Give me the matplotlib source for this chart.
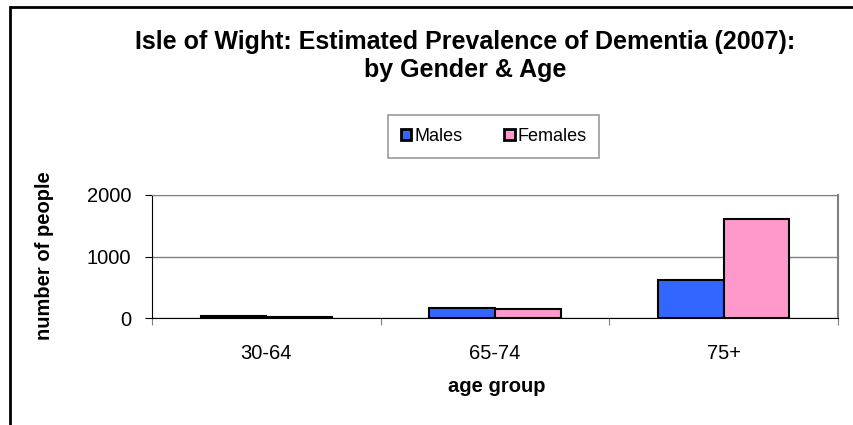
import matplotlib

matplotlib.use("Agg")
import matplotlib.pyplot as plt
import numpy as np
from matplotlib.patches import Rectangle, Patch

plt.rcParams["font.family"] = ["Liberation Sans", "DejaVu Sans"]

age_groups = ["30-64", "65-74", "75+"]
males = [25, 165, 610]
females = [15, 145, 1605]
yticks = [0, 1000, 2000]

fig = plt.figure(figsize=(8.54, 4.25), dpi=100)

# outer chart border (runs off the right and bottom edges)
fig.patches.append(Rectangle((10 / 854, -0.1), 1.2, 1 - 7 / 425 + 0.1,
                             transform=fig.transFigure, fill=False,
                             edgecolor="black", lw=2))

ax = fig.add_axes([152 / 854, 107 / 425, 686 / 854, 123 / 425])
x = np.arange(len(age_groups)) + 0.5
w = 0.287
ax.bar(x - w / 2, males, w, color="#3366ff", edgecolor="black", lw=1.5, zorder=3)
ax.bar(x + w / 2, females, w, color="#ff99cc", edgecolor="black", lw=1.5, zorder=3)

ax.set_xlim(0, 3)
ax.set_ylim(0, 2000)
ax.set_yticks(yticks)
ax.set_yticklabels([str(v) for v in yticks], fontsize=14.5)
ax.set_xticks([0, 1, 2, 3])
ax.set_xticklabels([])
ax.set_xticks(x, minor=True)
ax.set_xticklabels(age_groups, minor=True, fontsize=14.5)
ax.tick_params(axis="x", which="minor", length=0, pad=19)
ax.tick_params(axis="x", which="major", length=5, color="#808080", direction="out")
ax.tick_params(axis="y", length=5, direction="out", pad=10)
ax.grid(axis="y", color="#808080", lw=1, zorder=0)
ax.spines["top"].set_color("#808080")
ax.spines["right"].set_color("#808080")
ax.spines["right"].set_linewidth(1.5)
ax.spines["left"].set_color("black")
ax.spines["bottom"].set_color("black")

fig.text(465 / 854, 1 - 42 / 425, "Isle of Wight: Estimated Prevalence of Dementia (2007):",
         ha="center", va="center", fontsize=18, fontweight="bold")
fig.text(465 / 854, 1 - 70 / 425, "by Gender & Age",
         ha="center", va="center", fontsize=18, fontweight="bold")
fig.text(497 / 854, 1 - 387 / 425, "age group", ha="center", va="center",
         fontsize=14.5, fontweight="bold")
fig.text(45 / 854, 1 - 256 / 425, "number of people", ha="center", va="center",
         rotation=90, fontsize=14.5, fontweight="bold")

handles = [Patch(facecolor="#3366ff", edgecolor="black", lw=2),
           Patch(facecolor="#ff99cc", edgecolor="black", lw=2)]
leg = fig.legend(handles, ["Males", "Females"], loc="center",
                 bbox_to_anchor=(493.5 / 854, 1 - 136.5 / 425), ncol=2, fontsize=13,
                 frameon=True, fancybox=False, handlelength=0.6, handleheight=0.6,
                 handletextpad=0.15, columnspacing=2.3, borderpad=0.7,
                 borderaxespad=0)
leg.get_frame().set_edgecolor("#808080")
leg.get_frame().set_linewidth(1.2)
for t in leg.get_texts():
    t.set_color("black")

fig.savefig("out.png", dpi=100)
